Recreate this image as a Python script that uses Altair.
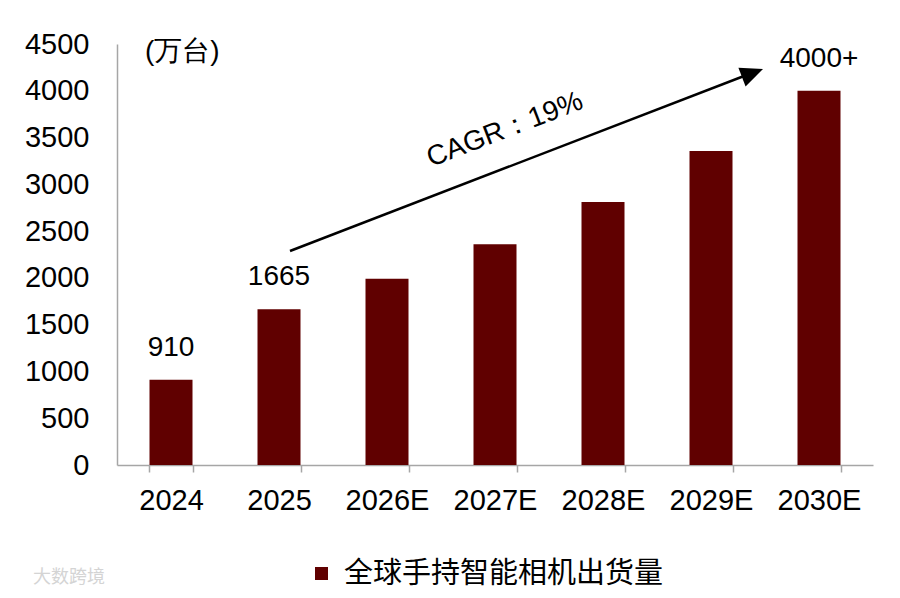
import altair as alt
import pandas as pd

categories = ["2024", "2025", "2026E", "2027E", "2028E", "2029E", "2030E"]
values = [910, 1665, 1990, 2360, 2810, 3355, 4000]
value_labels = ["910", "1665", "", "", "", "", "4000+"]
series_name = "全球手持智能相机出货量"
unit_label = "(万台)"
cagr_label = "CAGR：19%"
watermark = "大数跨境"

df = pd.DataFrame({
    "cat": categories,
    "value": values,
    "label": value_labels,
    "series": [series_name] * len(categories),
})
one = pd.DataFrame({"k": [0]})

BAR = "#600000"
LATIN = "Liberation Sans"
CJK = "Noto Sans CJK SC"

x_enc = alt.X(
    "cat:N", sort=categories, title=None,
    scale=alt.Scale(paddingInner=0.6, paddingOuter=0.3),
    axis=alt.Axis(labelAngle=0, labelFont=LATIN, labelFontSize=29, labelColor="black",
                  labelFontWeight="normal",
                  domainColor="#a6a6a6", tickColor="#a6a6a6", tickSize=7, tickBand="extent",
                  labelPadding=14, domainWidth=1.5, tickWidth=1.5),
)
y_enc = alt.Y(
    "value:Q", title=None,
    scale=alt.Scale(domain=[0, 4500], nice=False),
    axis=alt.Axis(values=list(range(0, 4501, 500)), grid=False, ticks=False, format="d",
                  labelFont=LATIN, labelFontSize=29, labelColor="black", labelFontWeight="normal",
                  domainColor="#a6a6a6", domainWidth=1.5, labelPadding=28),
)

bars = alt.Chart(df).mark_bar(size=43).encode(
    x=x_enc,
    y=y_enc,
    color=alt.Color("series:N", scale=alt.Scale(range=[BAR]),
                    legend=alt.Legend(title=None, orient="none", legendX=190, legendY=515,
                                      symbolType="square", symbolSize=170, symbolStrokeWidth=0,
                                      labelFont=CJK, labelFontSize=29, labelColor="black",
                                      labelFontWeight="normal", labelLimit=0,
                                      labelOffset=8, padding=0)),
)

labels = alt.Chart(df).mark_text(font=LATIN, fontSize=28, fontWeight="normal", color="black",
                                 baseline="middle", dy=-32).encode(
    x=alt.X("cat:N", sort=categories),
    y="value:Q",
    text="label:N",
)

arrow_line = alt.Chart(one).mark_rule(color="black", strokeWidth=2.5).encode(
    x=alt.value(173), y=alt.value(207), x2=alt.value(640), y2=alt.value(27)
)
arrow_head = alt.Chart(one).mark_point(
    shape="M0,0 L-1.8,-0.8 L-1.8,0.8 Z", filled=True, size=625, angle=339,
    color="black", opacity=1, strokeWidth=0
).encode(x=alt.value(646), y=alt.value(25))

cagr = alt.Chart(one).mark_text(
    font=LATIN, fontSize=28, fontWeight="normal", color="black", angle=339,
    align="center", baseline="middle", text=cagr_label
).encode(x=alt.value(388), y=alt.value(86))

unit = alt.Chart(one).mark_text(
    font=LATIN, fontSize=28, fontWeight="normal", color="black", align="left",
    baseline="middle", text=unit_label
).encode(x=alt.value(28), y=alt.value(8))

wm = alt.Chart(one).mark_text(
    font=CJK, fontSize=18, fontWeight="normal", color="#d4d4d4", align="left",
    baseline="middle", text=watermark
).encode(x=alt.value(-84), y=alt.value(534))

chart = alt.layer(bars, labels, arrow_line, arrow_head, cagr, unit, wm).properties(
    width=756, height=421,
    autosize=alt.AutoSizeParams(type="none"),
    padding={"left": 109, "top": 36, "right": 19, "bottom": 125},
).configure_view(stroke=None)

chart.save("out.html", embed_options={"renderer": "svg", "actions": False})
